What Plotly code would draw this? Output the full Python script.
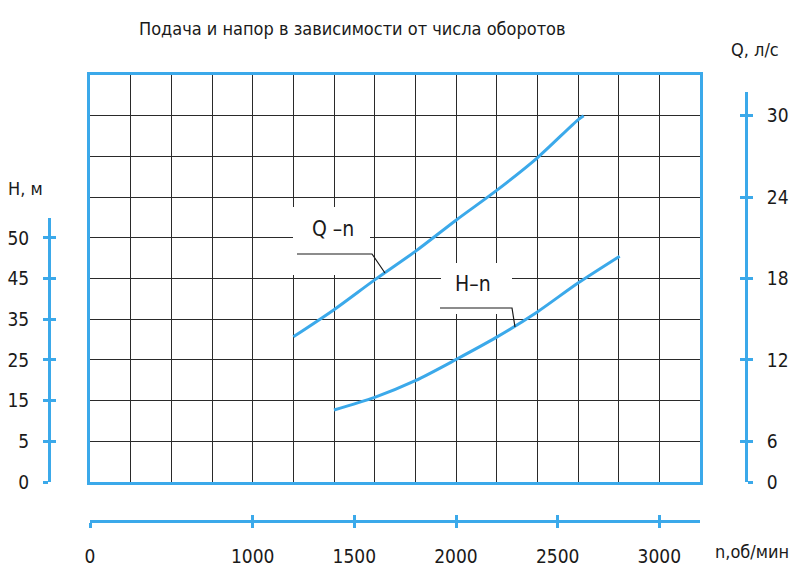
import plotly.graph_objects as go

# ---- data ----
n_q = [1200, 1400, 1600, 1800, 2000, 2200, 2400, 2600, 2628]     # об/мин
q_vals = [13.7, 15.7, 17.9, 20.0, 22.3, 24.5, 26.9, 29.7, 30.0]   # л/с

n_h = [1400, 1600, 1800, 2000, 2200, 2400, 2600, 2805]            # об/мин
h_vals = [12.7, 15.8, 19.9, 25.1, 30.6, 36.8, 43.9, 50.5]         # м

n_tickvals = [200, 1000, 1500, 2000, 2500, 3000]
n_ticktext = ["0", "1000", "1500", "2000", "2500", "3000"]
h_tickvals = [-5, 5, 15, 25, 35, 45, 55]
h_ticktext = ["0", "5", "15", "25", "35", "45", "50"]
q_tickvals = [3, 6, 12, 18, 24, 30]
q_ticktext = ["0", "6", "12", "18", "24", "30"]

title_text = "Подача и напор в зависимости от числа оборотов"

# ---- layout geometry ----
W, H = 793, 570
ML, MR, MT, MB = 49, 47, 75, 49
PW, PH = W - ML - MR, H - MT - MB


def PX(px):
    return (px - ML) / PW


def PY(py):
    return (H - MB - py) / PH


BLUE = "#3BA9EA"
GRID = "#2a2a2a"
FONT = "DejaVu Sans Condensed, Liberation Sans Narrow, sans-serif"
TXT = "#1a1a1a"

xdom = [PX(90), PX(700)]
ydom = [PY(482), 1.0]

fig = go.Figure()
# main grid subplot (empty trace so the x/y subplot exists)
fig.add_trace(go.Scatter(x=[None], y=[None], xaxis="x", yaxis="y", showlegend=False))
fig.add_trace(go.Scatter(x=n_q, y=q_vals, mode="lines", xaxis="x2", yaxis="y5",
                         line=dict(color=BLUE, width=3, shape="spline", smoothing=0.8),
                         showlegend=False, hoverinfo="skip"))
fig.add_trace(go.Scatter(x=n_h, y=h_vals, mode="lines", xaxis="x2", yaxis="y3",
                         line=dict(color=BLUE, width=3, shape="spline", smoothing=0.8),
                         showlegend=False, hoverinfo="skip"))
# dummy traces so the inner-tick copies of the axes render
fig.add_trace(go.Scatter(x=[None], y=[None], xaxis="x3", yaxis="y4", showlegend=False))
fig.add_trace(go.Scatter(x=[None], y=[None], xaxis="x3", yaxis="y6", showlegend=False))

tick_font = dict(family=FONT, size=19, color=TXT)

common_free = dict(showgrid=False, zeroline=False, showline=True,
                   linecolor=BLUE, linewidth=3, tickcolor=BLUE,
                   tickwidth=3, ticklen=5, fixedrange=True, automargin=False)

fig.update_layout(
    width=W, height=H,
    margin=dict(l=ML, r=MR, t=MT, b=MB, autoexpand=False),
    paper_bgcolor="white", plot_bgcolor="rgba(0,0,0,0)",
    xaxis=dict(domain=xdom, range=[200, 3200], tick0=200, dtick=200,
               showgrid=True, gridcolor=GRID, gridwidth=1,
               showticklabels=False, ticks="", zeroline=False,
               showline=True, mirror=True, linecolor=BLUE, linewidth=3,
               anchor="y", fixedrange=True, automargin=False),
    yaxis=dict(domain=ydom, range=[0, 10], tick0=0, dtick=1,
               showgrid=True, gridcolor=GRID, gridwidth=1,
               showticklabels=False, ticks="", zeroline=False,
               showline=True, mirror=True, linecolor=BLUE, linewidth=3,
               anchor="x", fixedrange=True, automargin=False),
    # bottom n axis (two copies for crossing ticks)
    xaxis2=dict(overlaying="x", anchor="free", position=0, side="bottom",
                range=[200, 3200], tickvals=n_tickvals, ticktext=n_ticktext,
                ticks="outside", tickfont=tick_font, ticklabelstandoff=12,
                **common_free),
    xaxis3=dict(overlaying="x", anchor="free", position=0, side="bottom",
                range=[200, 3200], tickvals=n_tickvals, showticklabels=False,
                ticks="inside", **common_free),
    # left H axis
    yaxis3=dict(anchor="free", position=0, side="left",
                domain=[PY(482), PY(217.5)], range=[-5, 60],
                tickvals=h_tickvals, ticktext=h_ticktext,
                ticks="outside", tickfont=tick_font, ticklabelstandoff=10,
                **common_free),
    yaxis4=dict(overlaying="y3", anchor="free", position=0, side="left",
                range=[-5, 60], tickvals=h_tickvals, showticklabels=False,
                ticks="inside", **common_free),
    # right Q axis
    yaxis5=dict(anchor="free", position=1, side="right",
                domain=[PY(482), PY(92)], range=[3, 31.75],
                tickvals=q_tickvals, ticktext=q_ticktext,
                ticks="outside", tickfont=tick_font, ticklabelstandoff=10,
                **common_free),
    yaxis6=dict(overlaying="y5", anchor="free", position=1, side="right",
                range=[3, 31.75], tickvals=q_tickvals, showticklabels=False,
                ticks="inside", **common_free),
)

shapes = []
# white label backgrounds
for (x0, y0, x1, y1) in [(293, 207, 370, 275), (441, 263, 512, 314)]:
    shapes.append(dict(type="rect", xref="paper", yref="paper",
                       x0=PX(x0), x1=PX(x1), y0=PY(y1), y1=PY(y0),
                       fillcolor="white", line=dict(width=0), layer="above"))
# leader lines
for pts in [[(297, 254), (372, 254), (385, 273)],
            [(440, 308), (512, 308), (515, 327)]]:
    path = "M " + " L ".join(f"{PX(a):.5f},{PY(b):.5f}" for a, b in pts)
    shapes.append(dict(type="path", xref="paper", yref="paper", path=path,
                       line=dict(color=TXT, width=1.2), layer="above"))
fig.update_layout(shapes=shapes)

ann = [
    dict(text=title_text, x=PX(352), y=PY(28), size=18),
    dict(text="Q –n", x=PX(333), y=PY(229), size=21),
    dict(text="H–n", x=PX(473), y=PY(284), size=21),
    dict(text="H, м", x=PX(25), y=PY(188), size=18),
    dict(text="Q, л/с", x=PX(755), y=PY(50), size=18),
    dict(text="n,об/мин", x=PX(752), y=PY(551), size=18),
]
fig.update_layout(annotations=[
    dict(text=a["text"], x=a["x"], y=a["y"], xref="paper", yref="paper",
         showarrow=False, xanchor="center", yanchor="middle",
         font=dict(family=FONT, size=a["size"], color=TXT))
    for a in ann
])

fig.write_html("out.html",
               config={"displayModeBar": False, "staticPlot": True},
               post_script="document.body.style.margin='0';"
                           "document.body.style.overflow='hidden';")
